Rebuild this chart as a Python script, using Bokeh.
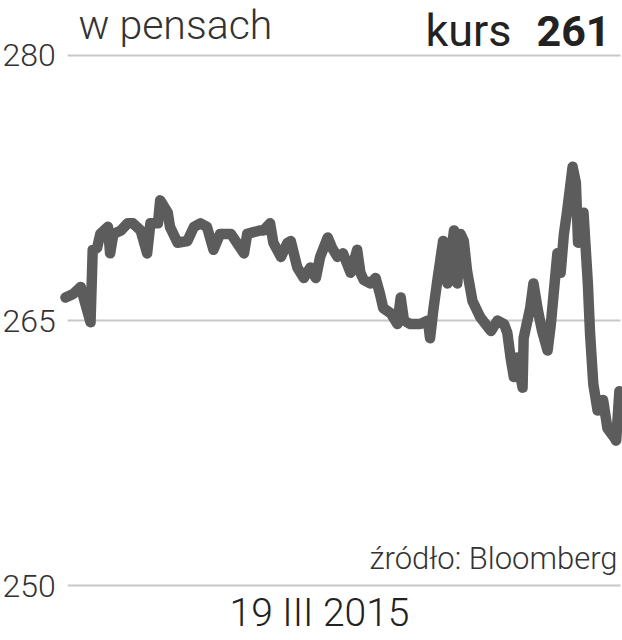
from bokeh.plotting import figure
from bokeh.models import Range1d, Label
from bokeh.embed import file_html
from bokeh.resources import INLINE

# Intraday quote, 19 III 2015 (minutes since session open, price in pence)
minutes = [0, 7, 14, 18, 23, 25, 29, 32, 39, 41,
           44, 51, 57, 62, 69, 75, 78, 85, 87, 94,
           96, 103, 112, 118, 124, 130, 136, 142, 152, 164,
           167, 179, 182, 188, 191, 198, 204, 207, 213, 219,
           225, 230, 234, 241, 245, 250, 255, 262, 268, 271,
           274, 280, 285, 289, 292, 299, 305, 308, 311, 317,
           326, 333, 335, 338, 342, 347, 351, 357, 360, 363,
           366, 369, 374, 381, 391, 397, 403, 406, 409, 412,
           415, 420, 421, 427, 430, 434, 438, 443, 446, 452,
           455, 458, 461, 466, 469, 471, 476, 480, 482, 485,
           489, 494, 498, 504, 506, 509]
price = [266.3, 266.5, 266.9, 266.0, 264.9, 269.0, 269.1, 269.9, 270.3, 268.8,
         269.9, 270.1, 270.5, 270.5, 270.1, 268.8, 270.5, 270.5, 271.8, 271.1,
         270.3, 269.4, 269.5, 270.3, 270.5, 270.3, 269.0, 269.9, 269.9, 268.8,
         269.9, 270.1, 270.1, 270.5, 269.4, 268.6, 269.4, 269.5, 268.0, 267.4,
         268.0, 267.4, 268.6, 269.7, 269.1, 268.6, 268.8, 267.7, 269.0, 267.7,
         267.3, 267.1, 267.4, 266.5, 265.7, 265.4, 264.8, 266.3, 265.0, 264.8,
         264.8, 265.0, 264.0, 265.6, 267.4, 269.5, 267.1, 270.1, 267.1, 269.9,
         269.5, 267.8, 266.1, 265.2, 264.4, 265.0, 264.8, 264.3, 262.9, 261.8,
         262.9, 261.2, 264.0, 265.7, 267.1, 265.6, 264.4, 263.3, 264.8, 268.8,
         267.7, 269.9, 271.2, 273.7, 272.8, 269.4, 271.1, 267.1, 264.3, 261.4,
         259.9, 260.5, 258.9, 258.4, 258.2, 261.0]
y_ticks = [250, 265, 280]
y_tick_labels = ["250", "265", "280"]
unit_label = "w pensach"
quote_label = "kurs"
quote_value = "261"
source_label = "źródło: Bloomberg"
date_label = "19 III 2015"

FONT = "Roboto"
LIGHT = "Roboto Light, Roboto"
X0, X1 = 2, 510          # extent of the grid lines (minutes)

p = figure(width=622, height=640, output_backend="svg", toolbar_location=None,
           x_axis_type=None, y_axis_type=None,
           x_range=Range1d(-59.73, 511.84), y_range=Range1d(246.887, 283.113),
           min_border=0)
p.outline_line_color = None
p.background_fill_color = "white"
p.border_fill_color = "white"
p.xgrid.visible = False
p.ygrid.visible = False

# horizontal grid lines at the tick values
p.segment(x0=[X0] * len(y_ticks), x1=[X1] * len(y_ticks), y0=y_ticks, y1=y_ticks,
          line_color="#c8c8c8", line_width=2)

p.line(minutes, price, line_width=10.5, line_color="#5c5c5c",
       line_join="round", line_cap="round")

for t, lab in zip(y_ticks, y_tick_labels):
    p.add_layout(Label(x=X0, y=t, x_offset=-12, text=lab, text_align="right",
                       text_baseline="middle", text_font=LIGHT,
                       text_font_size="32px", text_color="#333333"))

p.add_layout(Label(x=11.95, y=281.70, text=unit_label, text_font=LIGHT,
                   text_font_size="41px", text_color="#333333",
                   text_baseline="alphabetic"))
p.add_layout(Label(x=330.8, y=281.40, text=quote_label, text_font=FONT,
                   text_font_size="45px", text_color="#222222",
                   text_baseline="alphabetic"))
p.add_layout(Label(x=500.8, y=281.40, text=quote_value, text_font=FONT,
                   text_font_size="43px", text_font_style="bold",
                   text_color="#222222", text_align="right",
                   text_baseline="alphabetic"))
p.add_layout(Label(x=507.3, y=251.53, text=source_label, text_font=LIGHT,
                   text_font_size="31px", text_color="#333333",
                   text_align="right", text_baseline="alphabetic"))
p.add_layout(Label(x=233.4, y=248.45, text=date_label, text_font=LIGHT,
                   text_font_size="39px", text_color="#222222",
                   text_align="center", text_baseline="alphabetic"))

open("out.html", "w").write(file_html(p, INLINE))
